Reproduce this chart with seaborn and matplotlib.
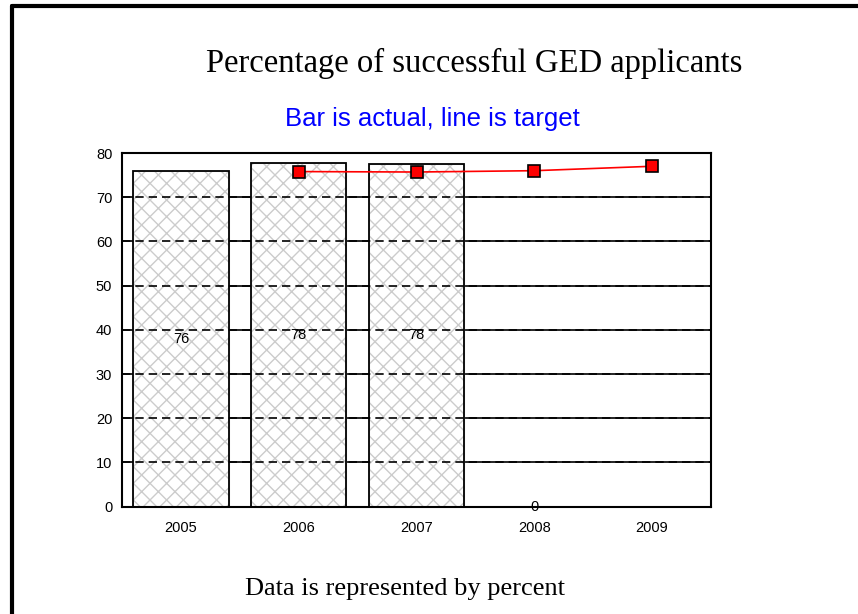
import matplotlib
matplotlib.use("Agg")
import matplotlib.pyplot as plt
import seaborn as sns
import pandas as pd

# chart values
years = ["2005", "2006", "2007", "2008", "2009"]
actual_years = ["2005", "2006", "2007", "2008"]
actual = [76.0, 77.7, 77.6, 0.0]
target_years = ["2006", "2007", "2008", "2009"]
target = [75.8, 75.7, 76.0, 77.0]
yticks = [0, 10, 20, 30, 40, 50, 60, 70, 80]

sns.set_theme(style="white")
plt.rcParams["font.family"] = ["Liberation Sans", "DejaVu Sans"]
plt.rcParams["hatch.linewidth"] = 1.0
plt.rcParams["text.color"] = "black"

bars = pd.DataFrame({"year": actual_years, "pct": actual})
line = pd.DataFrame({"year": target_years, "pct": target})

fig = plt.figure(figsize=(8.58, 6.14), dpi=100)
ax = fig.add_axes([0.1422, 0.1748, 0.6865, 0.5760])

# solid grid behind the bars
for t in yticks[1:-1]:
    ax.axhline(t, color="black", lw=1.2, zorder=0)

# hatched fill, then black outline on top
sns.barplot(data=bars, x="year", y="pct", order=years, color="white",
            edgecolor="#cccccc", hatch="xx", linewidth=0.8, width=0.81,
            saturation=1, ax=ax, zorder=1)
sns.barplot(data=bars, x="year", y="pct", order=years, fill=False,
            edgecolor="black", linewidth=1.3, width=0.81, ax=ax, zorder=3)

# dashed grid shows through the bars
for t in yticks[1:-1]:
    ax.axhline(t, color="black", lw=1.2, ls=(0, (5, 3)), zorder=2)

for c in ax.containers[:1]:
    ax.bar_label(c, labels=[f"{v:.0f}" for v in actual], label_type="center",
                 fontsize=10.5, color="black", zorder=5)

sns.pointplot(data=line, x="year", y="pct", order=years, color="red",
              markers="s", linewidth=1.2, markersize=9,
              markeredgecolor="black", markeredgewidth=1.2, ax=ax, zorder=6)

ax.set_xlim(-0.5, 4.5)
ax.set_ylim(0, 80)
ax.set_yticks(yticks)
ax.set_xlabel("")
ax.set_ylabel("")
ax.tick_params(axis="both", labelsize=10.5, length=0, labelcolor="black")
ax.tick_params(axis="y", pad=7)
ax.tick_params(axis="x", pad=10)
for s in ax.spines.values():
    s.set_visible(True)
    s.set_color("black")
    s.set_linewidth(1.5)

fig.text(0.553, 0.896, "Percentage of successful GED applicants",
         ha="center", va="center", fontsize=23.5, family="Liberation Serif")
fig.text(0.504, 0.807, "Bar is actual, line is target", ha="center",
         va="center", fontsize=18.5, color="#0000ff")
fig.text(0.472, 0.041, "Data is represented by percent", ha="center",
         va="center", fontsize=19, family="Liberation Serif")

# page frame on the left and top
fig.add_artist(plt.Line2D([0.014, 0.014], [0, 0.99], color="black",
                          lw=3, transform=fig.transFigure))
fig.add_artist(plt.Line2D([0.014, 1.0], [0.99, 0.99], color="black",
                          lw=3, transform=fig.transFigure))

fig.savefig("out.png", dpi=100)
